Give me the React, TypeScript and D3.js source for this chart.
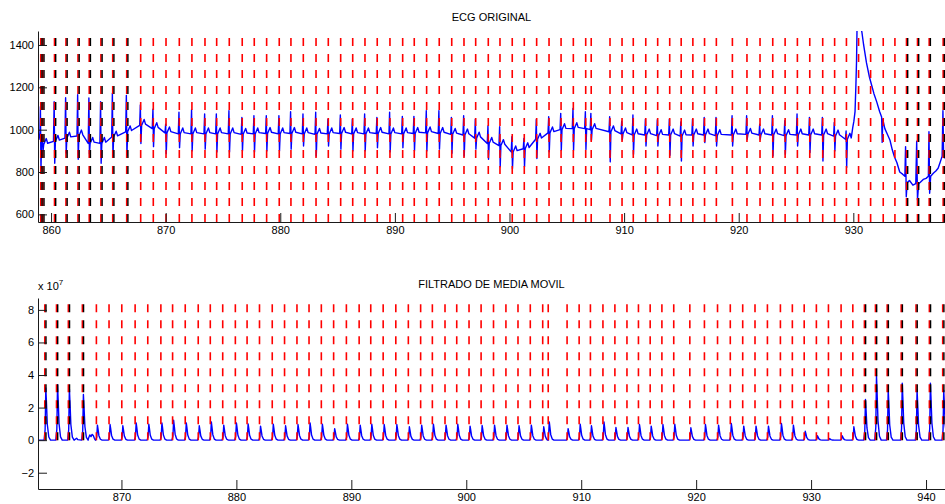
import React, { useRef, useEffect } from 'react'
import * as d3 from 'd3'

// detected beats (s) - red marks in both plots
const beatTimes = [
    859.10, 859.28, 860.30, 861.30, 862.35, 863.33, 864.35, 865.38, 866.60, 867.82,
    868.92, 870.03, 871.19, 872.29, 873.43, 874.45, 875.55, 876.68, 877.73, 878.81,
    879.91, 880.93, 882.01, 883.12, 884.19, 885.27, 886.32, 887.39, 888.46, 889.57,
    890.68, 891.69, 892.77, 893.87, 894.96, 896.03, 897.05, 898.15, 899.17, 900.24,
    901.29, 902.37, 903.45, 904.50, 905.57, 906.65, 907.13, 908.77, 909.82, 910.80,
    911.89, 912.93, 913.98, 914.98, 916.00, 917.02, 918.05, 919.45, 920.72, 921.86,
    922.97, 924.05, 925.12, 926.20, 927.33, 928.37, 929.40, 930.46, 931.51, 932.61,
    933.63, 934.64, 935.60, 936.62, 937.84, 939.13, 940.29, 941.45
]

// beats found by the second detector (black marks)
const blackTimes = [
    859.10, 859.28, 860.30, 861.30, 862.35, 863.33, 864.35, 865.38, 866.60,
    934.64, 935.60, 936.62, 937.84, 939.13, 940.29, 941.45
]

// ECG original, one value per beat up to 929.40
const ecgBase = [
    975, 930, 945, 960, 970, 935, 935, 965, 990, 1020,
    1005, 985, 980, 980, 980, 980, 980, 978, 980, 982,
    980, 982, 980, 978, 980, 982, 980, 980, 982, 980,
    980, 982, 985, 982, 978, 975, 960, 935, 925, 895,
    910, 955, 985, 1000, 1005, 1005, 1000, 990, 980, 975,
    975, 972, 975, 970, 975, 975, 972, 975, 978, 975,
    975, 972, 975, 975, 975, 970, 955
]
const ecgPeak = [
    1108, 960, 1132, 1151, 1165, 1150, 1132, 1172, 1162, 1117,
    1097, 1026, 1082, 1094, 1074, 1074, 1090, 1058, 1066, 1066,
    1066, 1085, 1074, 1082, 1050, 1069, 1050, 1074, 1058, 1082,
    1063, 1063, 1090, 1090, 1058, 1066, 1050, 1018, 1014, 967,
    959, 1048, 1061, 1077, 1100, 1085, 1077, 1061, 1040, 1069,
    1050, 1047, 1050, 1037, 1050, 1058, 1058, 1066, 1066, 1026,
    1066, 1042, 1074, 1058, 1058, 1034, 994
]
const ecgTrough = [
    817, 900, 841, 890, 860, 885, 841, 875, 878, 935,
    920, 887, 915, 900, 908, 895, 895, 900, 895, 900,
    900, 908, 923, 876, 923, 908, 900, 900, 915, 895,
    915, 900, 900, 908, 889, 876, 908, 860, 825, 817,
    825, 864, 896, 903, 903, 907, 950, 848, 952, 884,
    923, 923, 879, 852, 923, 939, 923, 923, 955, 955,
    876, 884, 923, 892, 852, 900, 821
]
// start of the trace and the artefact after 929.5 s
const ecgHead = [[858.86, 985], [858.95, 955], [859.03, 990]]
const ecgTail = [
    [929.95, 1010], [930.05, 1040], [930.15, 1085], [930.22, 1200], [930.28, 1320],
    [930.33, 1500], [930.5, 1530], [930.75, 1460], [930.9, 1400], [931.15, 1315],
    [931.4, 1250], [931.6, 1210], [931.8, 1170], [932.05, 1130], [932.3, 1085],
    [932.47, 1060], [932.52, 940], [932.57, 1050], [932.75, 1005], [933.0, 975],
    [933.2, 950], [933.4, 905], [933.6, 870], [933.8, 845], [934.05, 800],
    [934.3, 790], [934.5, 780], [934.56, 920], [934.62, 683], [934.7, 750],
    [934.9, 760], [935.2, 738], [935.45, 745], [935.53, 945], [935.6, 668],
    [935.7, 745], [935.85, 752], [936.1, 765], [936.35, 770], [936.55, 780],
    [936.6, 990], [936.66, 700], [936.75, 780], [937.0, 795], [937.2, 805],
    [937.4, 818], [937.6, 850], [937.75, 875], [937.82, 1090], [937.88, 870],
    [938.0, 865]
]

// moving average output (x 10^7), one peak per beat from beatTimes[5]
const mavPeak = [
    3.2, 3.4, 3.15, 2.8, 0.92, 0.96, 0.88, 1.06, 0.98, 1.06,
    1.22, 1.06, 0.88, 1.12, 0.92, 1.06, 1.0, 0.86, 0.98, 0.88,
    0.96, 1.06, 0.98, 0.71, 0.98, 0.92, 0.98, 0.96, 0.96, 0.82,
    0.92, 0.98, 0.92, 0.98, 0.86, 0.9, 0.92, 0.92, 0.88, 0.92,
    0.82, 1.12, 0.71, 0.98, 0.88, 1.12, 0.78, 0.78, 0.96, 0.86,
    0.96, 0.98, 0.76, 0.96, 0.92, 1.02, 0.86, 0.86, 0.86, 1.02,
    0.92, 0.55, 0.27, 0.1, 0.27, 0.82, 2.5, 3.95, 3.1, 3.5,
    3.08, 3.5, 3.06
]
const mavBumps = [
    [866.1, 0.12], [866.2, 0.03], [867.15, 0.15], [867.25, 0.32], [867.35, 0.22],
    [867.45, 0.35], [867.55, 0.28], [867.65, 0.1], [867.72, 0.02]
]

const ecgTicksX = [860, 870, 880, 890, 900, 910, 920, 930]
const ecgTicksY = [600, 800, 1000, 1200, 1400]
const mavTicksX = [870, 880, 890, 900, 910, 920, 930, 940]
const mavTicksY = [-2, 0, 2, 4, 6, 8]

const FONT = '"Liberation Sans", Arial, Helvetica, sans-serif'

const buildEcg = () => {
    const pts: number[][] = [...ecgHead]
    ecgBase.forEach((b, i) => {
        const t = beatTimes[i]
        pts.push([t - 0.09, b], [t - 0.03, ecgPeak[i]], [t + 0.02, ecgTrough[i]], [t + 0.08, b])
        // small T wave when there is room before the next beat
        if (beatTimes[i + 1] - t > 0.6) pts.push([t + 0.3, b + 28], [t + 0.42, b + 6])
    })
    pts.push(...ecgTail)
    return pts.sort((a, b) => a[0] - b[0])
}

const buildMav = () => {
    const pts: number[][] = [[862.74, 0]]
    mavPeak.forEach((h, k) => {
        const t = beatTimes[k + 5]
        pts.push([t - 0.06, 0], [t + 0.03, 0.2 * h], [t + 0.09, h], [t + 0.14, 0.75 * h],
            [t + 0.22, 0.3 * h], [t + 0.35, 0.06 * h], [t + 0.5, 0])
    })
    pts.push(...mavBumps)
    return pts.sort((a, b) => a[0] - b[0])
}

type Panel = {
    id: string, top: number, bottom: number,
    xDomain: number[], yDomain: number[],
    xTicks: number[], yTicks: number[],
    title: string, titleY: number,
    points: number[][], markFrom: number
}

const drawPanel = (svg: any, p: Panel) => {
    const left = 38, right = 945
    const x = d3.scaleLinear().domain(p.xDomain).range([left, right])
    const y = d3.scaleLinear().domain(p.yDomain).range([p.bottom, p.top])

    svg.append('clipPath').attr('id', p.id)
        .append('rect').attr('x', left).attr('y', p.top)
        .attr('width', right - left).attr('height', p.bottom - p.top)

    const plot = svg.append('g').attr('clip-path', `url(#${p.id})`)

    const lineGen = d3.line<number[]>().x(d => x(d[0])).y(d => y(d[1]))
    plot.append('path')
        .attr('d', lineGen(p.points))
        .attr('fill', 'none')
        .attr('stroke', '#0000ff')
        .attr('stroke-width', 1.4)
        .attr('stroke-linejoin', 'round')

    const y0 = y(p.markFrom)
    const inside = (t: number) => t >= p.xDomain[0] && t <= p.xDomain[1]
    plot.selectAll('line.red').data(beatTimes.filter(inside)).enter()
        .append('line').attr('class', 'red')
        .attr('x1', d => x(d)).attr('x2', d => x(d))
        .attr('y1', y0).attr('y2', p.top)
        .attr('stroke', '#ff0000').attr('stroke-width', 1.6)
        .attr('stroke-dasharray', '8,8')
    plot.selectAll('line.black').data(blackTimes.filter(inside)).enter()
        .append('line').attr('class', 'black')
        .attr('x1', d => x(d) + 1.2).attr('x2', d => x(d) + 1.2)
        .attr('y1', y0).attr('y2', p.top)
        .attr('stroke', '#000000').attr('stroke-width', 1.4)
        .attr('stroke-dasharray', '8,8')

    const yAxis = d3.axisLeft(y).tickValues(p.yTicks).tickFormat(d3.format('d'))
        .tickSizeInner(-9).tickSizeOuter(0).tickPadding(4)
    const yAxisG = svg.append('g').attr('transform', `translate(${left},0)`).call(yAxis)
    const xAxis = d3.axisBottom(x).tickValues(p.xTicks).tickFormat(d3.format('d'))
        .tickSizeInner(-9).tickSizeOuter(0).tickPadding(4)
    const xAxisG = svg.append('g').attr('transform', `translate(0,${p.bottom})`).call(xAxis)

    ;[yAxisG, xAxisG].forEach(g => {
        g.attr('font-family', FONT).attr('font-size', 11).attr('color', '#1a1a1a')
        g.selectAll('text').attr('fill', '#000')
    })

    svg.append('text')
        .attr('x', (left + right) / 2)
        .attr('y', p.titleY)
        .attr('text-anchor', 'middle')
        .attr('font-family', FONT)
        .attr('font-size', 11)
        .attr('fill', '#000')
        .text(p.title)
}

const App = () => {
    const visEl = useRef<HTMLDivElement>(null)

    useEffect(() => {
        const root = d3.select(visEl.current)
        root.selectAll('*').remove()
        const svg = root.append('svg')
            .attr('width', 945)
            .attr('height', 504)
            .style('position', 'absolute')
            .style('left', '0px')
            .style('top', '0px')
            .style('background', '#fff')

        drawPanel(svg, {
            id: 'clip-ecg', top: 31, bottom: 222,
            xDomain: [858.86, 938.0], yDomain: [564, 1466],
            xTicks: ecgTicksX, yTicks: ecgTicksY,
            title: 'ECG ORIGINAL', titleY: 21,
            points: buildEcg(), markFrom: 564
        })

        drawPanel(svg, {
            id: 'clip-mav', top: 298, bottom: 489,
            xDomain: [862.74, 941.65], yDomain: [-3, 8.73],
            xTicks: mavTicksX, yTicks: mavTicksY,
            title: 'FILTRADO DE MEDIA MOVIL', titleY: 287.5,
            points: buildMav(), markFrom: 0
        })

        const exp = svg.append('text')
            .attr('x', 38)
            .attr('y', 290)
            .attr('font-family', FONT)
            .attr('font-size', 11)
            .attr('fill', '#000')
        exp.append('tspan').text('x 10')
        exp.append('tspan').attr('font-size', 8).attr('dy', -5).text('7')
    }, [])

    return (
        <div>
            <div ref={visEl}></div>
        </div>
    )
}

export default App
